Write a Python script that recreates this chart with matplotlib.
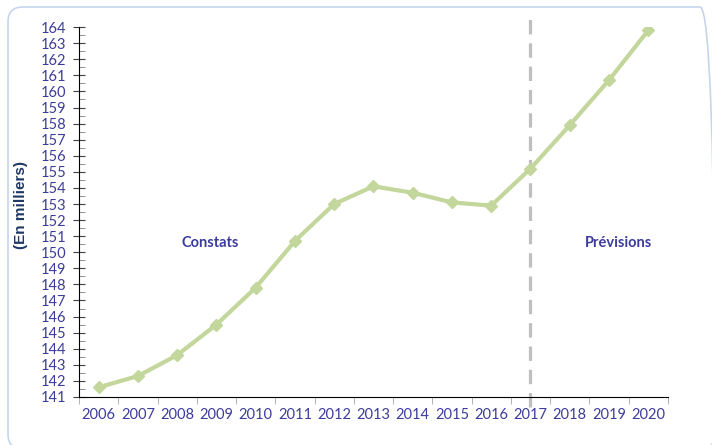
import matplotlib.pyplot as plt
from matplotlib.patches import FancyBboxPatch
from matplotlib.ticker import MultipleLocator, FixedLocator

years = ["2006", "2007", "2008", "2009", "2010", "2011", "2012", "2013",
         "2014", "2015", "2016", "2017", "2018", "2019", "2020"]
values = [141.6, 142.3, 143.6, 145.5, 147.8, 150.7, 153.0, 154.1,
          153.7, 153.1, 152.9, 155.2, 157.9, 160.7, 163.8]
forecast_start = "2017"

plt.rcParams['font.family'] = ['Lato', 'DejaVu Sans']
label_col = '#3c3c9c'

fig = plt.figure(figsize=(7.12, 4.45), dpi=100)
ax = fig.add_axes([0.111, 0.108, 0.827, 0.831])

# rounded frame around the whole chart (in inches)
frame = FancyBboxPatch((0.08, -0.04), 7.07, 4.42, transform=fig.dpi_scale_trans,
                       boxstyle="round,pad=0,rounding_size=0.15",
                       fc='none', ec='#c5d6ec', lw=1.2)
fig.patches.append(frame)

x = list(range(len(years)))
ax.plot(x, values, color='#c3d69b', lw=3, marker='D', ms=6, zorder=3)

xs = years.index(forecast_start)
ax.axvline(xs, ymin=-0.027, ymax=1.027, color='#bfbfbf', lw=2.3,
           dashes=(4.5, 2.8), clip_on=False, zorder=2)

ax.set_xlim(-0.5, len(years) - 0.5)
ax.set_ylim(141, 164)
ax.set_xticks(x)
ax.set_xticklabels(years)
ax.xaxis.set_minor_locator(FixedLocator([i - 0.5 for i in range(len(years) + 1)]))
ax.tick_params(axis='x', which='major', length=0, pad=8, labelsize=10.5, labelcolor=label_col)
ax.tick_params(axis='x', which='minor', length=5, color='#a6a6a6', direction='out')

ax.yaxis.set_major_locator(MultipleLocator(1))
ax.yaxis.set_minor_locator(MultipleLocator(0.5))
ax.tick_params(axis='y', which='major', direction='inout', length=8, color='#404040',
               labelsize=10.5, labelcolor=label_col, pad=5)
ax.tick_params(axis='y', which='minor', direction='in', length=4, color='#808080')

for s in ['top', 'right']:
    ax.spines[s].set_visible(False)
ax.spines['left'].set_color('black')
ax.spines['bottom'].set_color('black')

ax.set_ylabel("(En milliers)", fontweight='bold', color='#1f3864', fontsize=11,
              family=['Liberation Sans', 'DejaVu Sans'])
ax.yaxis.set_label_coords(-0.086, 0.52)

ax.text(2.84, 150.6, "Constats", fontweight='bold', color='#3c3c9c', fontsize=10.5,
        ha='center', va='center')
ax.text(13.25, 150.6, "Prévisions", fontweight='bold', color='#3c3c9c', fontsize=10.5,
        ha='center', va='center')

fig.savefig("out.png", dpi=100)
